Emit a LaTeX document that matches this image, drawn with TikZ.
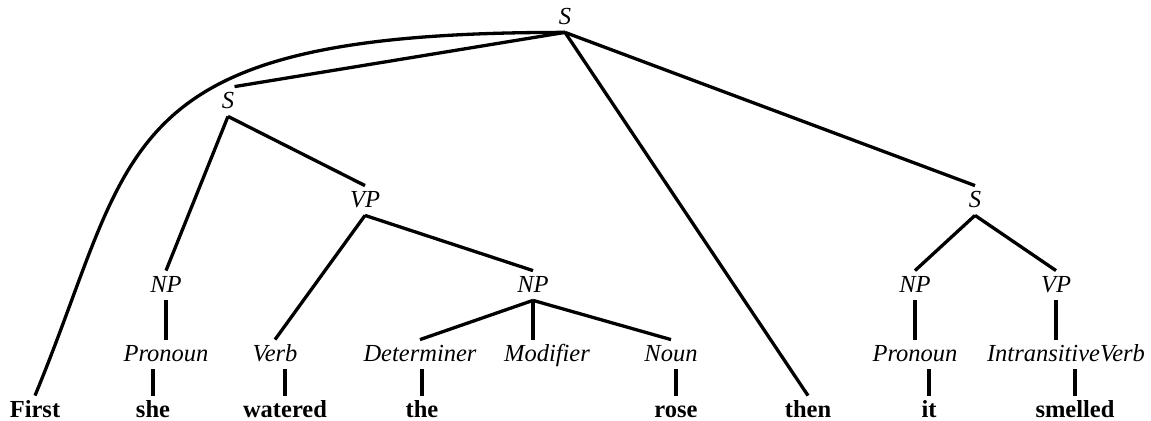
\documentclass[tikz,border=0pt]{standalone}
\usepackage{fontspec}
\setmainfont{Liberation Serif}
\usepackage{tikz}

\begin{document}
\begin{tikzpicture}[x=0.5pt, y=-0.5pt,
    cat/.style={font=\fontsize{12.25}{14}\selectfont\itshape, inner sep=0pt, text height=11pt, text depth=3.5pt},
    word/.style={font=\fontsize{12.25}{14}\selectfont\bfseries, inner sep=0pt, text height=11pt, text depth=3.5pt},
    branch/.style={line width=1.65pt}
]
\useasboundingbox (0,0) rectangle (1151,421);

\node[cat] (s0) at (565,17.5) {S};
\node[cat] (s1) at (228,101.5) {S};
\node[cat] (vp1) at (365,200.5) {VP};
\node[cat] (s2) at (975,200.5) {S};
\node[cat] (np1) at (166,285.5) {NP};
\node[cat] (np2) at (533,285.5) {NP};
\node[cat] (np3) at (915,285.5) {NP};
\node[cat] (vp2) at (1056,285.5) {VP};
\node[cat] (pron1) at (166,354.5) {Pronoun};
\node[cat] (verb) at (275,354.5) {Verb};
\node[cat] (det) at (420,354.5) {Determiner};
\node[cat] (mod) at (547,354.5) {Modifier};
\node[cat] (noun) at (671,354.5) {Noun};
\node[cat] (pron2) at (915,354.5) {Pronoun};
\node[cat] (iverb) at (1066,354.5) {IntransitiveVerb};

\node[word] (first) at (35,410.5) {First};
\node[word] (she) at (153,410.5) {she};
\node[word] (watered) at (285,410.5) {watered};
\node[word] (the) at (422,410.5) {the};
\node[word] (rose) at (676,410.5) {rose};
\node[word] (then) at (808,410.5) {then};
\node[word] (it) at (929,410.5) {it};
\node[word] (smelled) at (1075,410.5) {smelled};

\draw[branch] (s0.south) .. controls (108,32) and (138,147) .. (first.north);
\draw[branch] (s0.south) -- (s1.north east);
\draw[branch] (s0.south) -- (then.north);
\draw[branch] (s0.south) -- (s2.north);
\draw[branch] (s1.south) -- (np1.north);
\draw[branch] (s1.south) -- (vp1.north);
\draw[branch] (vp1.south) -- (verb.north);
\draw[branch] (vp1.south) -- (np2.north);
\draw[branch] (np1.south) -- (pron1.north);
\draw[branch] (np2.south) -- (det.north);
\draw[branch] (np2.south) -- (np2.south |- mod.north);
\draw[branch] (np2.south) -- (noun.north);
\draw[branch] (s2.south) -- (np3.north);
\draw[branch] (s2.south) -- (vp2.north);
\draw[branch] (np3.south) -- (pron2.north);
\draw[branch] (vp2.south) -- (vp2.south |- iverb.north);
\draw[branch] (she.north) -- (she.north |- pron1.south);
\draw[branch] (watered.north) -- (watered.north |- verb.south);
\draw[branch] (the.north) -- (the.north |- det.south);
\draw[branch] (rose.north) -- (rose.north |- noun.south);
\draw[branch] (it.north) -- (it.north |- pron2.south);
\draw[branch] (smelled.north) -- (smelled.north |- iverb.south);
\end{tikzpicture}
\end{document}
